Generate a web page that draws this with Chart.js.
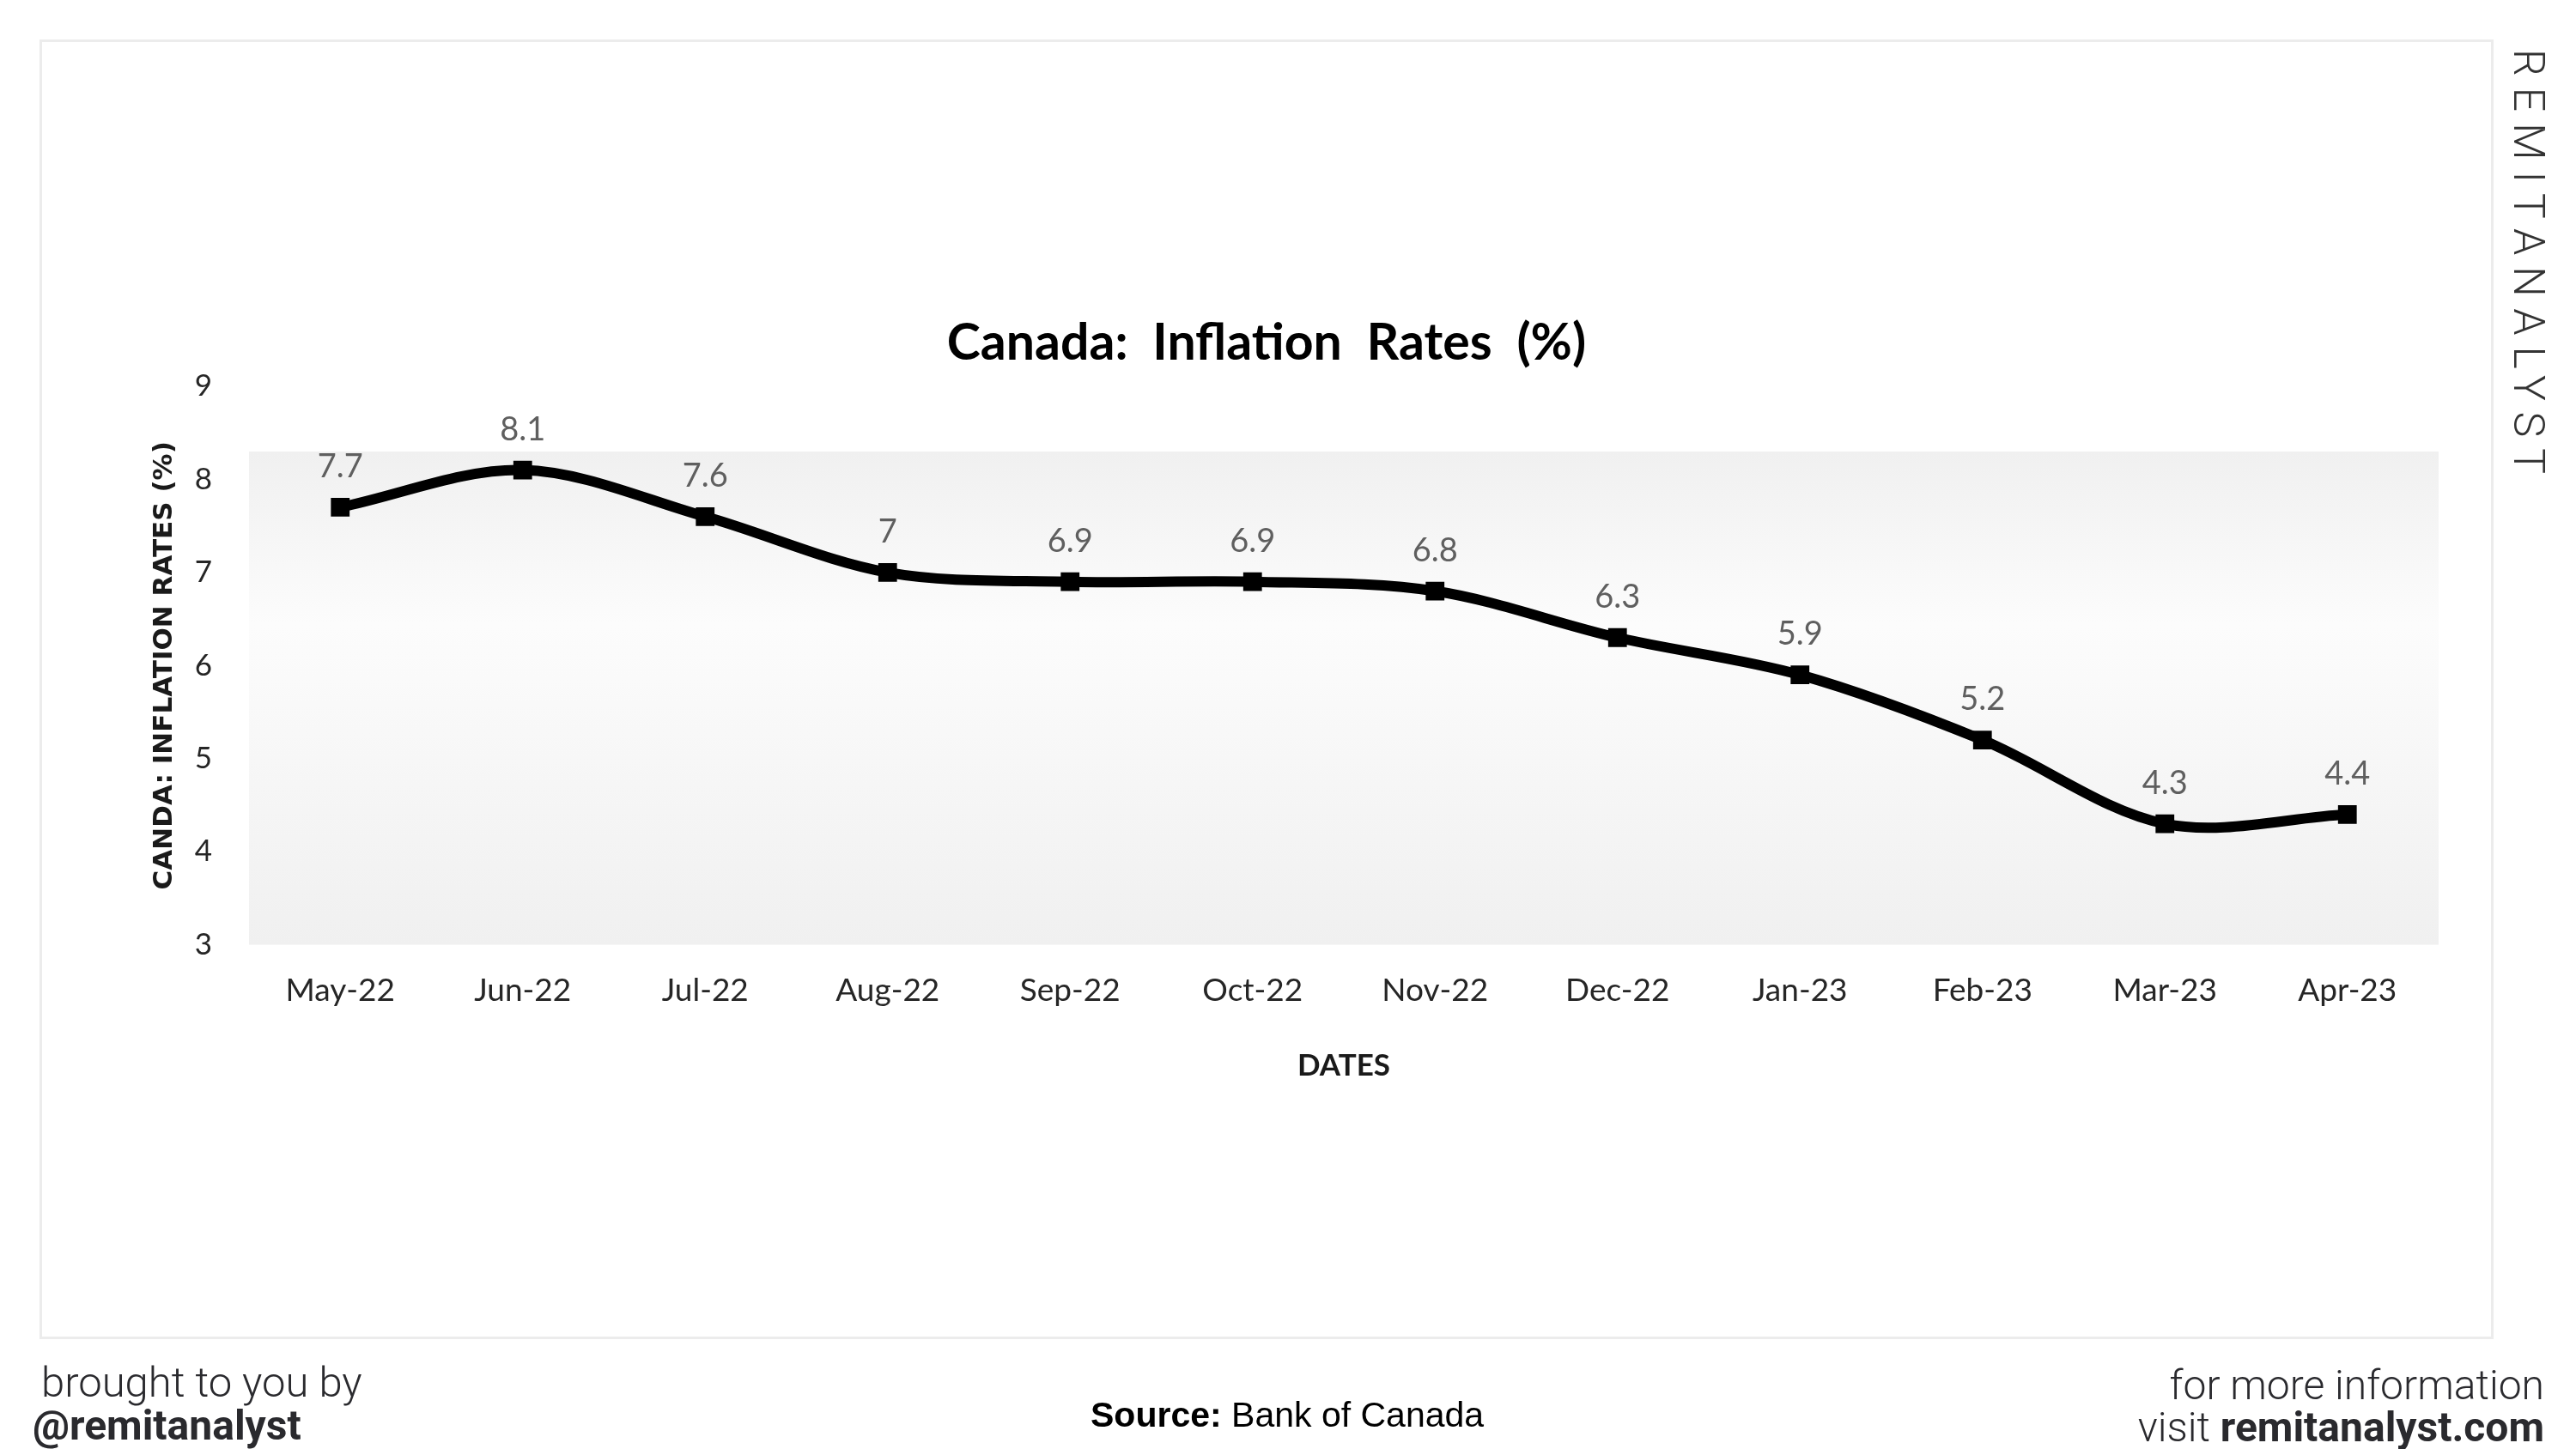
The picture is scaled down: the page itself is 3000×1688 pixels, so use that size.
<!DOCTYPE html>
<html>
<head>
<meta charset="utf-8">
<script src="https://cdn.jsdelivr.net/npm/chart.js@4.4.1/dist/chart.umd.min.js"></script>
<style>
  html, body { margin: 0; padding: 0; background: #fff; }
  body { width: 3000px; height: 1688px; position: relative; overflow: hidden; }
  #frame { position: absolute; left: 46px; top: 46px; width: 2852px; height: 1508px; border: 3px solid #ececec; }
  #chart { position: absolute; left: 0; top: 0; }
  .txt { position: absolute; white-space: nowrap; line-height: 1; color: #2a2a2e; font-family: Roboto, sans-serif; }
  #title { left: 0; width: 2950px; top: 367px; text-align: center; font-family: Lato, sans-serif; font-weight: 700; font-size: 59px; color: #000; white-space: pre; }
  #brand { left: 2920px; top: 57px; writing-mode: vertical-rl; font-size: 50px; font-weight: 300; letter-spacing: 13px; color: #333; }
</style>
</head>
<body>
<div id="frame"></div>
<canvas id="chart" width="3000" height="1688"></canvas>
<div id="title" class="txt">Canada:  Inflation  Rates  (%)</div>
<div id="brand" class="txt">REMITANALYST</div>
<div class="txt" style="left:48px; top:1586px; font-size:49px; font-weight:300;">brought to you by</div>
<div class="txt" style="left:38px; top:1637px; font-size:48px; font-weight:700;">@remitanalyst</div>
<div class="txt" style="left:1270px; top:1628px; font-size:41px; font-family:'Liberation Sans', Arial, sans-serif; color:#000;"><b>Source:</b> Bank of Canada</div>
<div class="txt" style="right:37px; top:1590px; font-size:48px; font-weight:300;">for more information</div>
<div class="txt" style="right:37px; top:1639px; font-size:48px; font-weight:300;">visit <span style="font-weight:700;">remitanalyst.com</span></div>

<script>
// monthly CPI inflation
var months = ['May-22', 'Jun-22', 'Jul-22', 'Aug-22', 'Sep-22', 'Oct-22',
              'Nov-22', 'Dec-22', 'Jan-23', 'Feb-23', 'Mar-23', 'Apr-23'];
var inflationRates = [7.7, 8.1, 7.6, 7, 6.9, 6.9, 6.8, 6.3, 5.9, 5.2, 4.3, 4.4];
var yMin = 3;
var yMax = 9;
var yStep = 1;

//excel-ish plot area: grey gradient box that starts a bit below the top of the axis
var plotAreaBg = {
  id: 'plotAreaBg',
  beforeDatasetsDraw: function(chart) {
    var a = chart.chartArea;
    var ctx = chart.ctx;
    var top = a.top + 76;
    var g = ctx.createLinearGradient(0, top, 0, a.bottom);
    g.addColorStop(0, '#f0f0f0');
    g.addColorStop(0.35, '#fcfcfc');
    g.addColorStop(1, '#f0f0f0');
    ctx.save();
    ctx.fillStyle = g;
    ctx.fillRect(a.left, top, a.right - a.left, a.bottom - top);
    ctx.restore();
  }
};

//value labels above each point
var valueLabels = {
  id: 'valueLabels',
  afterDatasetsDraw: function(chart) {
    var ctx = chart.ctx;
    var meta = chart.getDatasetMeta(0);
    ctx.save();
    ctx.font = '38px Lato';
    ctx.fillStyle = '#5f5f5f';
    ctx.textAlign = 'center';
    ctx.textBaseline = 'middle';
    meta.data.forEach(function(pt, i) {
      ctx.fillText(String(inflationRates[i]), pt.x, pt.y - 47);
    });
    ctx.restore();
  }
};

var ctx = document.getElementById('chart').getContext('2d');
var chart = new Chart(ctx, {
  type: 'line',
  data: {
    labels: months,
    datasets: [{
      label: 'Inflation rate',
      data: inflationRates,
      borderColor: '#000',
      backgroundColor: '#000',
      borderWidth: 12,
      tension: 0.33,
      fill: false,
      pointStyle: 'rect',
      pointRadius: 14,
      pointBorderWidth: 2,
      pointBackgroundColor: '#000',
      pointBorderColor: '#000'
    }]
  },
  options: {
    responsive: false,
    animation: false,
    devicePixelRatio: 1,
    layout: {
      padding: { top: 450, left: 164, right: 160, bottom: 425 }
    },
    plugins: {
      legend: { display: false },
      tooltip: { enabled: false },
      title: { display: false }
    },
    scales: {
      x: {
        offset: true,
        grid: { display: false, drawTicks: false },
        border: { display: false },
        ticks: {
          color: '#262626',
          padding: 31,
          font: { family: 'Lato', size: 37, lineHeight: 1.2 }
        },
        title: {
          display: true,
          text: 'DATES',
          color: '#1a1a1a',
          font: { family: 'Lato', size: 35, weight: 'bold', lineHeight: 1.2 },
          padding: { top: 14, bottom: 0 }
        }
      },
      y: {
        min: yMin,
        max: yMax,
        grid: { display: false, drawTicks: false },
        border: { display: false },
        //fixed axis width so the plot starts where the original does
        afterFit: function(scale) { scale.width = 126; },
        ticks: {
          stepSize: yStep,
          color: '#262626',
          padding: 43,
          font: { family: 'Lato', size: 35, lineHeight: 1.2 }
        },
        title: {
          display: true,
          text: 'CANDA: INFLATION RATES (%)',
          color: '#1a1a1a',
          font: { family: 'DejaVu Sans', size: 31, weight: 'bold', lineHeight: 1.2 },
          padding: { top: 9, bottom: 0 }
        }
      }
    }
  },
  plugins: [plotAreaBg, valueLabels]
});
</script>
</body>
</html>
